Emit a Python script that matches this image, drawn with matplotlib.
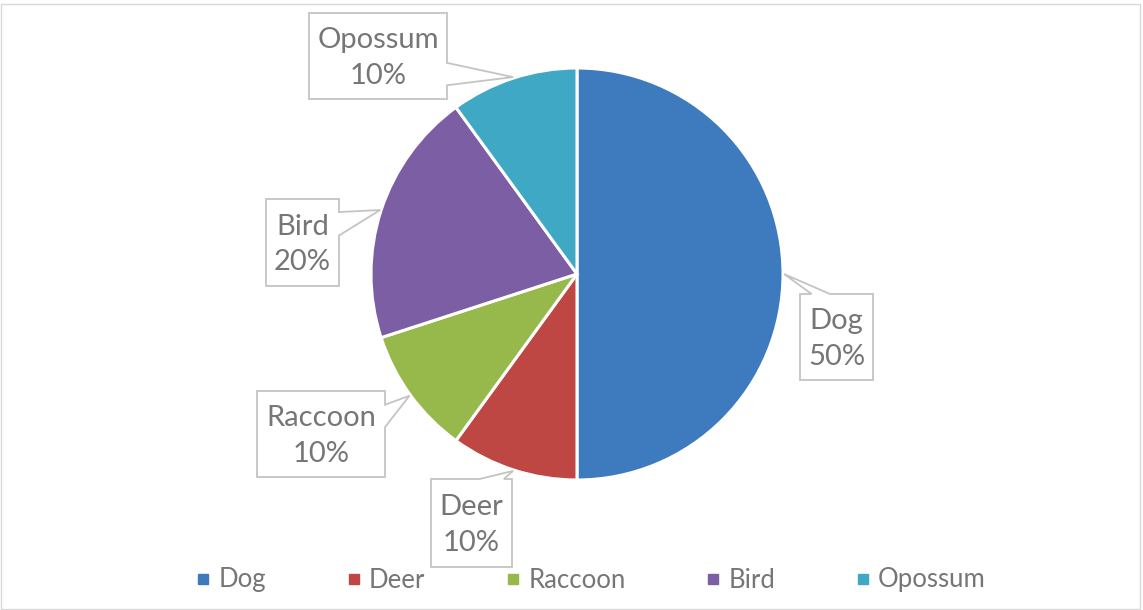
import matplotlib
matplotlib.use('Agg')
import matplotlib.pyplot as plt
from matplotlib.patches import Polygon, Rectangle
from matplotlib.lines import Line2D
import numpy as np

categories = ['Dog', 'Deer', 'Raccoon', 'Bird', 'Opossum']
values = [50, 10, 10, 20, 10]
colors = ['#3E7BBE', '#BE4643', '#97B94B', '#7B5EA3', '#3FA8C4']

FONT = 'Lato'
TEXT_COLOR = '#767676'
BOX_EDGE = '#C4C4C4'

W, H = 1143, 610
fig = plt.figure(figsize=(W / 100, H / 100), dpi=100)
cx, cy, R = 577, 274, 206
ax = fig.add_axes([(cx - R) / W, (H - cy - R) / H, 2 * R / W, 2 * R / H])
wedges, _ = ax.pie(values, colors=colors, startangle=90, counterclock=False,
                   radius=1, wedgeprops=dict(edgecolor='white', linewidth=2.2))
ax.set_xlim(-1, 1)
ax.set_ylim(-1, 1)
ax.set_aspect('equal')
ax.axis('off')

# callout layout in pixels: left, top, width, height, side, base fractions
layout = {
    'Dog':     (800, 294, 73, 86, 'top', 0.16, 0.41),
    'Deer':    (431, 479, 81, 88, 'top', 0.60, 0.90),
    'Raccoon': (257, 391, 128, 86, 'right', 0.16, 0.42),
    'Bird':    (266, 199, 73, 87, 'right', 0.15, 0.42),
    'Opossum': (309, 13, 138, 86, 'right', 0.58, 0.84),
}


def px2d(px, py):
    return ((px - cx) / R, (cy - py) / R)


total = sum(values)
for w, cat, v in zip(wedges, categories, values):
    l, t, bw, bh, side, f1, f2 = layout[cat]
    r, b = l + bw, t + bh
    mid = np.deg2rad((w.theta1 + w.theta2) / 2)
    tip = (np.cos(mid) * 1.005, np.sin(mid) * 1.005)
    if side == 'right':
        pts = [px2d(l, t), px2d(r, t), px2d(r, t + f1 * bh), tip,
               px2d(r, t + f2 * bh), px2d(r, b), px2d(l, b)]
    else:
        pts = [px2d(l, t), px2d(l + f1 * bw, t), tip, px2d(l + f2 * bw, t),
               px2d(r, t), px2d(r, b), px2d(l, b)]
    poly = Polygon(pts, closed=True, facecolor='white', edgecolor=BOX_EDGE,
                   linewidth=1.3, clip_on=False, zorder=5)
    ax.add_patch(poly)
    tx, ty = px2d(l + bw / 2, t + bh / 2 + 2)
    ax.text(tx, ty, f"{cat}\n{v / total * 100:.0f}%", ha='center', va='center',
            fontsize=21, color=TEXT_COLOR, family=FONT, linespacing=1.45,
            zorder=6, clip_on=False)

handles = [Line2D([], [], marker='s', linestyle='', markersize=7, color=c)
           for c in colors]
fig.legend(handles, categories, loc='center', bbox_to_anchor=(590 / W, 1 - 580 / H),
           ncol=5, frameon=False, columnspacing=3.05, handletextpad=0.25,
           handlelength=0.7, prop={'family': FONT, 'size': 18.5},
           labelcolor=TEXT_COLOR)

fig.patches.append(Rectangle((1 / W, 1 / H), (W - 4) / W, (H - 5) / H,
                             transform=fig.transFigure, fill=False,
                             edgecolor='#D9D9D9', linewidth=1))

fig.savefig('out.png', dpi=100, facecolor='white')
